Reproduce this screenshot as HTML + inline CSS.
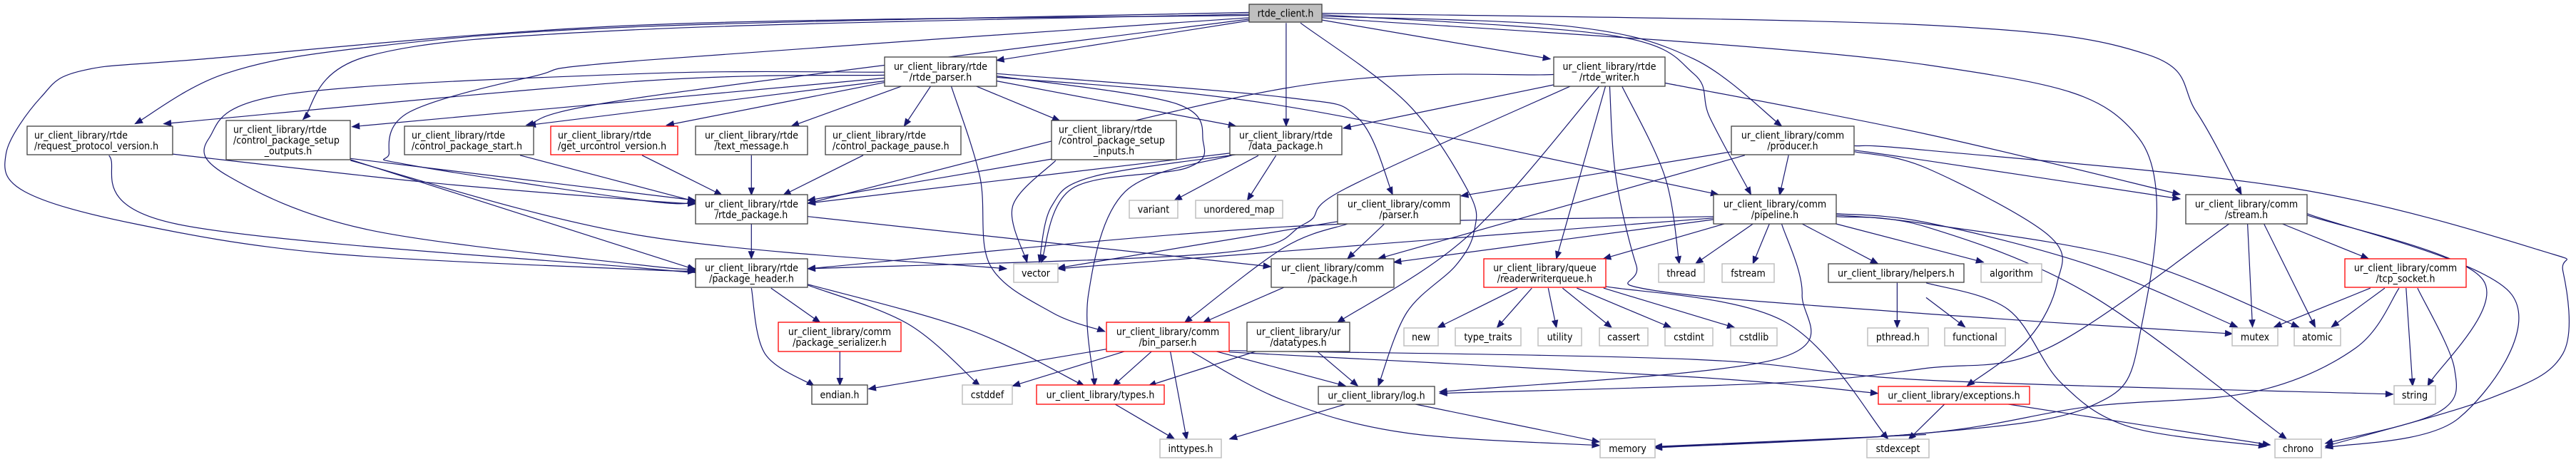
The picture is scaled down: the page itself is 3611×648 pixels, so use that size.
<!DOCTYPE html>
<html><head><meta charset="utf-8">
<style>
html,body{margin:0;padding:0;background:#fff;}
svg{display:block;}
text{font-family:"DejaVu Sans Condensed","DejaVu Sans","Liberation Sans",sans-serif;font-size:14px;fill:#000;}
</style></head>
<body>
<svg id="g" width="3611" height="648" viewBox="0 0 3611 648" xmlns="http://www.w3.org/2000/svg">
<rect width="3611" height="648" fill="#fff"/>
<g id="edges" fill="none" stroke="#191970" stroke-width="1.2"></g>
<g id="heads" fill="#191970" stroke="#191970"></g>
<g id="nodes"></g>
</svg>
<script>
(function(){
var NS="http://www.w3.org/2000/svg";
function Z(k,x,y){return [k*900+x/1.742, y/2.42];}
// nodes: x1,y1,x2,y2,type,lines,align
var N=[
[1751,6,1853,31,'f',["rtde_client.h"],'c'],
[1240,80,1397,121,'b',["ur_client_library/rtde","/rtde_parser.h"],'c'],
[2178,80,2334,121,'b',["ur_client_library/rtde","/rtde_writer.h"],'c'],
[38,177,242,217,'b',["ur_client_library/rtde","/request_protocol_version.h"],'l'],
[317,169,491,224,'b',["ur_client_library/rtde","/control_package_setup","_outputs.h"],'s'],
[567,177,748,217,'b',["ur_client_library/rtde","/control_package_start.h"],'l'],
[772,177,950,217,'r',["ur_client_library/rtde","/get_urcontrol_version.h"],'l'],
[975,177,1132,217,'b',["ur_client_library/rtde","/text_message.h"],'c'],
[1157,177,1347,217,'b',["ur_client_library/rtde","/control_package_pause.h"],'l'],
[1474,169,1649,224,'b',["ur_client_library/rtde","/control_package_setup","_inputs.h"],'s'],
[1724,177,1881,217,'b',["ur_client_library/rtde","/data_package.h"],'c'],
[975,273,1132,314,'b',["ur_client_library/rtde","/rtde_package.h"],'c'],
[975,363,1132,403,'b',["ur_client_library/rtde","/package_header.h"],'c'],
[1421,370,1483,396,'g',["vector"],'c'],
[1583,281,1651,306,'g',["variant"],'c'],
[1676,281,1798,306,'g',["unordered_map"],'c'],
[1091,452,1263,493,'r',["ur_client_library/comm","/package_serializer.h"],'c'],
[1138,540,1216,567,'b',["endian.h"],'c'],
[1349,540,1419,567,'g',["cstddef"],'c'],
[1453,540,1632,567,'r',["ur_client_library/types.h"],'c'],
[1626,616,1712,642,'g',["inttypes.h"],'c'],
[1551,452,1723,493,'r',["ur_client_library/comm","/bin_parser.h"],'c'],
[1782,363,1954,403,'b',["ur_client_library/comm","/package.h"],'c'],
[1748,452,1892,493,'b',["ur_client_library/ur","/datatypes.h"],'c'],
[1875,273,2047,314,'b',["ur_client_library/comm","/parser.h"],'c'],
[2427,177,2599,217,'b',["ur_client_library/comm","/producer.h"],'c'],
[2402,273,2574,314,'b',["ur_client_library/comm","/pipeline.h"],'c'],
[2080,363,2251,403,'r',["ur_client_library/queue","/readerwriterqueue.h"],'c'],
[2325,370,2389,396,'g',["thread"],'c'],
[2414,370,2487,396,'g',["fstream"],'c'],
[2563,370,2753,396,'b',["ur_client_library/helpers.h"],'c'],
[2777,370,2862,396,'g',["algorithm"],'c'],
[1968,460,2016,485,'g',["new"],'c'],
[2040,460,2132,485,'g',["type_traits"],'c'],
[2156,460,2217,485,'g',["utility"],'c'],
[2242,460,2310,485,'g',["cassert"],'c'],
[2334,460,2401,485,'g',["cstdint"],'c'],
[2426,460,2491,485,'g',["cstdlib"],'c'],
[2618,460,2703,485,'g',["pthread.h"],'c'],
[2726,460,2811,485,'g',["functional"],'c'],
[1848,542,2011,567,'b',["ur_client_library/log.h"],'c'],
[2633,542,2845,567,'r',["ur_client_library/exceptions.h"],'c'],
[2243,616,2320,642,'g',["memory"],'c'],
[2617,616,2704,642,'g',["stdexcept"],'c'],
[3064,273,3234,314,'b',["ur_client_library/comm","/stream.h"],'c'],
[3287,363,3457,403,'r',["ur_client_library/comm","/tcp_socket.h"],'c'],
[3129,460,3193,485,'g',["mutex"],'c'],
[3216,460,3281,485,'g',["atomic"],'c'],
[3356,541,3414,567,'g',["string"],'c'],
[3189,616,3254,642,'g',["chrono"],'c']
];
var ng=document.getElementById('nodes');
N.forEach(function(n){
  var r=document.createElementNS(NS,'rect');
  r.setAttribute('x',n[0]);r.setAttribute('y',n[1]);
  r.setAttribute('width',n[2]-n[0]);r.setAttribute('height',n[3]-n[1]);
  var st={'b':'#404040','r':'#ff0000','g':'#bfbfbf','f':'#404040'}[n[4]];
  r.setAttribute('fill',n[4]=='f'?'#bfbfbf':'#fff');
  r.setAttribute('stroke',st);r.setAttribute('stroke-width',n[4]=='g'?'1.5':'1.3');
  ng.appendChild(r);
  var L=n[5],h=n[3]-n[1],cx=(n[0]+n[2])/2;
  var top=n[1]+h/2-(L.length*15)/2;
  L.forEach(function(s,i){
    var t=document.createElementNS(NS,'text');
    var y=top+15*i+12.5;
    var left=(n[6]=='l')||(n[6]=='s'&&i<L.length-1);
    if(left){t.setAttribute('x',n[0]+10);}
    else{t.setAttribute('x',cx);t.setAttribute('text-anchor','middle');}
    t.setAttribute('y',y);t.textContent=s;ng.appendChild(t);
  });
});
var E=[
// rtde_client
[Z(1,1483,70),Z(1,866,205)],
[Z(2,93,68),Z(2,650,200)],
[Z(1,1483,42),Z(0,1568,90),Z(0,900,160),Z(0,550,250),Z(0,330,420)],
[Z(1,1483,48),Z(0,1568,100),Z(0,900,190),Z(0,740,405)],
[Z(1,1483,60),Z(1,0,205),Z(0,1300,260),Z(0,1000,380),Z(0,950,520),Z(0,1000,560),Z(0,1568,680),Z(1,130,688)],
[Z(1,1483,52),Z(0,1568,85),Z(0,500,200),Z(0,200,240),Z(0,100,330),Z(0,15,520),Z(0,60,650),Z(0,330,760),Z(0,800,860),Z(0,1568,915),Z(1,130,918)],
[Z(1,1483,65),Z(0,1568,330),Z(0,1285,425)],
[Z(2,5,78),Z(2,5,428)],
[Z(2,40,78),Z(2,300,350),Z(2,450,650),Z(2,465,780),Z(2,420,900),Z(2,300,1060),Z(2,230,1310)],
[Z(2,93,55),Z(2,700,90),Z(2,1000,200),Z(2,1215,428)],
[Z(2,93,50),Z(2,800,120),Z(2,1000,250),Z(2,1040,400),Z(2,1140,660)],
[Z(2,93,45),Z(3,0,85),Z(3,540,185),Z(3,660,380),Z(3,770,660)],
[Z(2,93,60),Z(3,0,220),Z(3,520,470),Z(3,520,1150),Z(3,400,1380),Z(3,0,1470),Z(2,905,1518)],
// rtde_parser
[Z(1,592,255),Z(0,1568,275),Z(0,400,420)],
[Z(1,592,265),Z(0,860,430)],
[Z(1,592,275),Z(0,1290,425)],
[Z(1,592,280),Z(1,60,425)],
[Z(1,635,292),Z(1,365,428)],
[Z(1,705,292),Z(1,640,428)],
[Z(1,815,292),Z(1,1020,410)],
[Z(1,866,275),Z(1,1450,428)],
[Z(1,592,245),Z(0,1568,250),Z(0,700,320),Z(0,510,470),Z(0,560,600),Z(0,900,780),Z(0,1568,900),Z(1,130,912)],
[Z(1,755,292),Z(1,825,600),Z(1,850,900),Z(1,1000,1060),Z(1,1130,1125)],
[Z(1,866,258),Z(1,1300,350),Z(1,1370,480),Z(1,1330,570),Z(1,1050,640),Z(1,975,890)],
[Z(1,866,250),Z(2,0,330),Z(2,180,400),Z(2,265,660)],
[Z(1,866,262),Z(2,0,360),Z(2,1060,660)],
// data_package
[Z(1,1435,520),Z(1,405,690)],
[Z(1,1450,525),Z(1,1100,600),Z(1,1000,700),Z(1,970,890)],
[Z(1,1505,528),Z(1,1300,680)],
[Z(1,1548,528),Z(1,1478,680)],
[Z(1,1440,527),Z(1,1180,650),Z(1,1090,1000),Z(1,1105,1310)],
// setup inputs
[Z(1,1000,540),Z(1,405,680)],
[Z(1,1010,545),Z(1,905,700),Z(1,940,890)],
// setup outputs
[Z(0,856,538),Z(1,130,680)],
[Z(0,856,545),Z(0,1568,800),Z(1,890,912)],
[Z(0,856,542),Z(1,130,915)],
// request protocol
[Z(0,266,528),Z(0,430,760),Z(0,1568,910),Z(1,130,922)],
[Z(0,421,523),Z(0,1050,620),Z(0,1568,680),Z(1,130,692)],
[Z(0,1270,527),Z(1,130,684)],
[Z(1,0,527),Z(1,195,662)],
[Z(1,267,527),Z(1,267,662)],
[Z(1,540,527),Z(1,345,662)],
[Z(1,267,760),Z(1,267,878)],
[Z(1,405,735),Z(1,1535,905)],
// package_header
[Z(1,315,978),Z(1,435,1095)],
[Z(1,267,978),Z(1,300,1200),Z(1,420,1310)],
[Z(1,405,968),Z(1,650,1100),Z(1,825,1310)],
[Z(1,405,965),Z(1,800,1120),Z(1,1080,1310)],
[Z(1,483,1192),Z(1,483,1308)],
// bin_parser
[Z(1,1134,1185),Z(1,553,1320)],
[Z(1,1180,1192),Z(1,905,1310)],
[Z(1,1245,1192),Z(1,1150,1310)],
[Z(1,1290,1192),Z(1,1330,1492)],
[Z(1,1340,1192),Z(1,1568,1360),Z(2,300,1470),Z(2,770,1512)],
[Z(1,1400,1192),Z(2,150,1310)],
[Z(1,1434,1195),Z(2,1000,1280),Z(2,1450,1335)],
[Z(1,1434,1190),Z(2,1000,1220),Z(3,0,1290),Z(3,1140,1338)],
[Z(1,1155,1372),Z(1,1300,1490)],
[Z(2,150,1372),Z(1,1435,1490)],
[Z(2,320,1372),Z(2,770,1500)],
[[1760,493],[1610,541]],
[Z(2,80,1192),Z(2,180,1310)],
[[1800,403],Z(1,1370,1095)],
[Z(2,155,760),Z(1,1568,840),Z(1,1325,1095)],
[Z(2,245,760),Z(2,155,878)],
[Z(2,131,752),Z(1,1015,910)],
// writer
[Z(2,658,253),Z(2,0,300),Z(1,405,690)],
[Z(2,658,288),Z(2,145,435)],
[Z(2,700,292),Z(2,150,640),Z(2,50,760),Z(1,1400,860),Z(1,405,912)],
[Z(2,770,292),Z(2,450,800),Z(2,130,1095)],
[Z(2,785,292),Z(2,665,878)],
[Z(2,825,292),Z(2,930,600),Z(2,965,895)],
[Z(2,795,292),Z(2,810,600),Z(2,860,900),Z(2,900,985),Z(3,0,1065),Z(3,748,1133)],
[Z(2,931,282),Z(3,0,455),Z(3,620,660)],
// producer
[Z(2,1093,515),Z(2,432,665)],
[Z(2,1125,527),Z(2,230,878)],
[Z(2,1232,527),Z(2,1210,662)],
[Z(2,1393,510),Z(3,0,545),Z(3,620,675)],
[Z(2,1393,495),Z(3,0,510),Z(3,900,640),Z(3,1500,850),Z(3,1555,920),Z(3,1555,1200),Z(3,1380,1350),Z(3,975,1515)],
[Z(2,1393,515),Z(3,0,570),Z(3,300,800),Z(3,320,960),Z(3,250,1150),Z(3,100,1310)],
// pipeline
[Z(2,1049,740),Z(1,1015,912)],
[Z(2,1049,745),Z(2,268,890)],
[Z(2,1075,760),Z(2,780,878)],
[Z(2,1145,760),Z(2,1005,895)],
[Z(2,1185,760),Z(2,1145,895)],
[Z(2,1265,760),Z(2,1450,895)],
[Z(2,1348,760),Z(3,140,890)],
[Z(2,1215,760),Z(2,1265,1000),Z(2,1200,1220),Z(2,380,1330)],
[Z(2,1348,725),Z(3,0,755),Z(3,400,900),Z(3,760,1110)],
[Z(2,1348,730),Z(3,0,760),Z(3,500,880),Z(3,910,1110)],
[Z(2,1348,735),Z(3,0,770),Z(3,400,1000),Z(3,880,1490)],
[Z(2,1049,735),Z(1,1568,770),Z(1,405,912)],
// readerwriterqueue
[Z(2,570,978),Z(2,375,1112)],
[Z(2,605,978),Z(2,520,1112)],
[Z(2,645,978),Z(2,665,1112)],
[Z(2,680,978),Z(2,800,1112)],
[Z(2,715,978),Z(2,945,1112)],
[Z(2,780,978),Z(2,1100,1112)],
[Z(2,785,972),Z(2,1220,1090),Z(2,1475,1490)],
// helpers
[Z(2,1497,960),Z(2,1497,1112)],
[Z(3,0,1010),Z(3,95,1110)],
[Z(3,0,960),Z(3,200,1050),Z(3,330,1300),Z(3,500,1450),Z(3,830,1515)],
// exceptions
[Z(3,45,1372),Z(2,1525,1492)],
[Z(3,200,1372),Z(3,840,1510)],
[Z(2,1568,1475),Z(2,905,1516)],
// stream
[Z(3,740,760),Z(3,300,1180),Z(2,1568,1250),Z(2,1200,1300),Z(2,380,1335)],
[Z(3,785,760),Z(3,797,1110)],
[Z(3,825,760),Z(3,950,1110)],
[Z(3,870,760),Z(3,1080,878)],
[Z(3,930,730),Z(3,1360,950),Z(3,1225,1310)],
[Z(3,930,725),Z(3,1430,1000),Z(3,1300,1420),Z(3,975,1520)],
// tcp_socket
[Z(3,1085,978),Z(3,850,1110)],
[Z(3,1120,978),Z(3,990,1110)],
[Z(3,1172,978),Z(3,1188,1310)],
[Z(3,1200,978),Z(3,1290,1250),Z(3,1250,1400),Z(3,975,1505)],
[Z(3,1155,978),Z(3,1050,1180),Z(3,800,1330),Z(3,400,1380),Z(3,0,1470),Z(2,905,1520)]
];
var eg=document.getElementById('edges'),hg=document.getElementById('heads');
E.forEach(function(P){
  var d='M'+P[0][0].toFixed(1)+','+P[0][1].toFixed(1);
  var lastC=P[0];
  for(var i=0;i<P.length-1;i++){
    var p0=P[i-1]||P[i],p1=P[i],p2=P[i+1],p3=P[i+2]||p2;
    var c1=[p1[0]+(p2[0]-p0[0])/6,p1[1]+(p2[1]-p0[1])/6];
    var c2=[p2[0]-(p3[0]-p1[0])/6,p2[1]-(p3[1]-p1[1])/6];
    d+=' C'+c1[0].toFixed(1)+','+c1[1].toFixed(1)+' '+c2[0].toFixed(1)+','+c2[1].toFixed(1)+' '+p2[0].toFixed(1)+','+p2[1].toFixed(1);
    lastC=c2;
  }
  var end=P[P.length-1];
  var dx=end[0]-lastC[0],dy=end[1]-lastC[1],l=Math.sqrt(dx*dx+dy*dy)||1;
  dx/=l;dy/=l;
  var L=10,W=4;
  var bx=end[0]-dx*L,by=end[1]-dy*L;
  // shorten path end to arrow base
  var path=document.createElementNS(NS,'path');
  path.setAttribute('d',d);eg.appendChild(path);
  var poly=document.createElementNS(NS,'polygon');
  poly.setAttribute('points',end[0].toFixed(1)+','+end[1].toFixed(1)+' '+(bx-dy*W).toFixed(1)+','+(by+dx*W).toFixed(1)+' '+(bx+dy*W).toFixed(1)+','+(by-dx*W).toFixed(1));
  hg.appendChild(poly);
});
})();
</script>
</body></html>
